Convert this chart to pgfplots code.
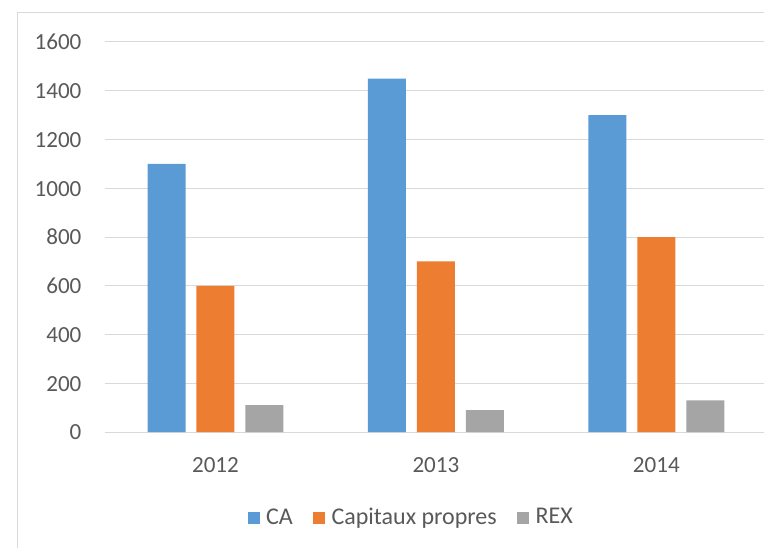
\documentclass[border=0pt]{standalone}
\usepackage{fontspec}
\setmainfont{Carlito}
\usepackage{pgfplots}
\pgfplotsset{compat=1.18}
\definecolor{cablue}{HTML}{5B9BD5}
\definecolor{caorange}{HTML}{ED7D31}
\definecolor{cagray}{HTML}{A5A5A5}
\definecolor{gridgray}{HTML}{D9D9D9}
\definecolor{txtgray}{HTML}{595959}
\pgfplotsset{sq/.style={legend image code/.code={\fill[##1] (0pt,-4.6pt) rectangle (9.2pt,4.6pt);}}}
\begin{document}
\fontsize{17.3pt}{20pt}\selectfont
\begin{tikzpicture}
\useasboundingbox (0,0) rectangle (573pt,410.25pt);
\clip (0,0) rectangle (573pt,410.25pt);
\draw[gridgray, line width=0.75pt] (12.98pt,-10pt) rectangle (620pt,400.7pt);
\begin{axis}[
  at={(78.94pt,86.25pt)}, anchor=south west,
  scale only axis, width=496pt, height=292.5pt,
  xmin=-0.5, xmax=2.5, ymin=0, ymax=1600,
  ytick={0,200,...,1600},
  xtick={0,1,2}, xticklabels={2012,2013,2014},
  ybar=8.2pt, bar width=28.5pt,
  axis line style={draw=none},
  major tick length=0pt,
  ymajorgrids, grid style={gridgray, line width=0.75pt},
  /pgf/number format/assume math mode=true,
  /pgf/number format/1000 sep={},
  tick label style={font=\fontsize{17.3pt}{20pt}\selectfont, text=txtgray, inner sep=0pt},
  yticklabel style={anchor=base east, xshift=-17.7pt, yshift=-5.9pt},
  xticklabel style={anchor=base, yshift=-30pt},
  legend style={at={(0.4623,-0.2205)}, anchor=center, draw=none, fill=none,
    legend columns=3, font=\fontsize{18pt}{21pt}\selectfont, text=txtgray,
    nodes={inner sep=1.2pt},
    /tikz/every odd column/.append style={column sep=3.5pt},
    /tikz/every even column/.append style={column sep=14pt}},
]
\addplot[fill=cablue, draw=none, sq] coordinates {(0,1100) (1,1450) (2,1300)};
\addplot[fill=caorange, draw=none, sq] coordinates {(0,600) (1,700) (2,800)};
\addplot[fill=cagray, draw=none, sq] coordinates {(0,110) (1,90) (2,130)};
\legend{CA,Capitaux propres,REX}
\end{axis}
\end{tikzpicture}
\end{document}
